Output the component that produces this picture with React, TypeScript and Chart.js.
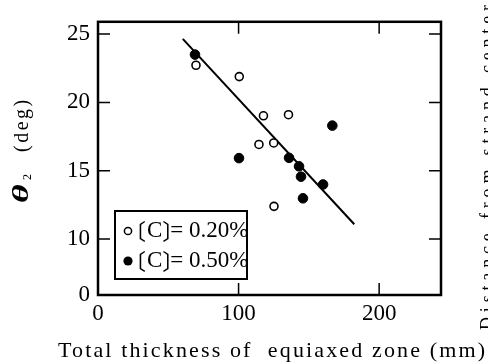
import React, { useEffect, useRef } from 'react';
import { Chart, registerables } from 'chart.js';

Chart.register(...registerables);

// ---- data ----
const openX = [69.7, 100.5, 117.7, 135.5, 114.5, 125.0, 125.2];
const openY = [22.72, 21.89, 19.02, 19.1, 16.92, 17.03, 12.39];
const filledX = [69.0, 100.3, 135.9, 143.0, 144.4, 145.8, 160.1, 166.7];
const filledY = [23.5, 15.92, 15.94, 15.32, 14.56, 12.98, 13.99, 18.3];
const fitX = [60.3, 182.3];
const fitY = [24.65, 11.08];
const seriesLabels = ['〔C〕= 0.20%', '〔C〕= 0.50%'];
const xTickValues = [0, 100, 200];
const xTickLabels = ['0', '100', '200'];
const yTickValues = [5.9, 10, 15, 20, 25];
const yTickLabels = ['0', '10', '15', '20', '25'];
const xTitle = 'Total thickness of  equiaxed zone (mm)';
const yTitleSymbol = 'θ';
const yTitleSub = '2';
const yTitleUnit = '(deg)';
const sideText = 'Distance from strand center';

const SERIF = '"Liberation Serif", "Times New Roman", serif';
const CJK = '"Noto Sans CJK JP", "Noto Sans CJK SC", sans-serif';

function drawLegendLabel(ctx: CanvasRenderingContext2D, text: string, x: number, y: number) {
  let cursor = x;
  let buf = '';
  const flush = () => {
    if (!buf) return;
    ctx.font = `23px ${SERIF}`;
    ctx.fillText(buf, cursor, y);
    cursor += ctx.measureText(buf).width;
    buf = '';
  };
  for (const ch of text) {
    if (ch === '〔' || ch === '〕') {
      flush();
      ctx.font = `22px ${CJK}`;
      const m = ctx.measureText(ch);
      ctx.fillText(ch, cursor + m.actualBoundingBoxLeft, y);
      cursor += m.actualBoundingBoxLeft + m.actualBoundingBoxRight + 1;
    } else {
      buf += ch;
    }
  }
  flush();
}

const decorPlugin = {
  id: 'decor',
  afterDraw(chart: any) {
    const { ctx, chartArea: a, scales } = chart;
    const xs = scales.x;
    const ys = scales.y;
    ctx.save();
    ctx.strokeStyle = '#000';
    ctx.fillStyle = '#000';

    // inward ticks on all four sides
    ctx.lineWidth = 1.5;
    ctx.beginPath();
    xTickValues.forEach((v) => {
      if (v <= xs.min) return;
      const px = xs.getPixelForValue(v);
      ctx.moveTo(px, a.bottom);
      ctx.lineTo(px, a.bottom - 12);
      ctx.moveTo(px, a.top);
      ctx.lineTo(px, a.top + 12);
    });
    yTickValues.forEach((v) => {
      if (v <= ys.min) return;
      const py = ys.getPixelForValue(v);
      ctx.moveTo(a.left, py);
      ctx.lineTo(a.left + 12, py);
      ctx.moveTo(a.right, py);
      ctx.lineTo(a.right - 12, py);
    });
    ctx.stroke();

    // frame
    ctx.lineWidth = 2.5;
    ctx.strokeRect(a.left, a.top, a.right - a.left, a.bottom - a.top);

    // legend box
    const bx = 115, by = 211, bw = 132, bh = 68;
    ctx.fillStyle = '#fff';
    ctx.fillRect(bx, by, bw, bh);
    ctx.lineWidth = 2;
    ctx.strokeRect(bx, by, bw, bh);
    ctx.fillStyle = '#000';
    // open marker
    ctx.lineWidth = 1.5;
    ctx.beginPath();
    ctx.arc(128, 231, 3.6, 0, Math.PI * 2);
    ctx.fillStyle = '#fff';
    ctx.fill();
    ctx.stroke();
    // filled marker
    ctx.beginPath();
    ctx.arc(128, 261, 4.6, 0, Math.PI * 2);
    ctx.fillStyle = '#000';
    ctx.fill();
    ctx.textBaseline = 'middle';
    ctx.textAlign = 'left';
    drawLegendLabel(ctx, seriesLabels[0], 139, 231);
    drawLegendLabel(ctx, seriesLabels[1], 139, 261);

    // x title
    ctx.textBaseline = 'alphabetic';
    ctx.font = `22px ${SERIF}`;
    (ctx as any).letterSpacing = '0px';
    const w0 = ctx.measureText(xTitle).width;
    const sp = (427 - w0) / (xTitle.length - 1);
    (ctx as any).letterSpacing = `${sp}px`;
    ctx.fillText(xTitle, 58, 357);
    (ctx as any).letterSpacing = '0px';

    // y title (rotated)
    ctx.save();
    ctx.translate(28, 203);
    ctx.rotate(-Math.PI / 2);
    ctx.font = `bold italic 24px ${SERIF}`;
    ctx.save();
    ctx.scale(1.5, 1);
    ctx.fillText(yTitleSymbol, 0, 0);
    ctx.restore();
    ctx.font = `12px ${SERIF}`;
    ctx.fillText(yTitleSub, 23, 3);
    ctx.font = `20px ${SERIF}`;
    (ctx as any).letterSpacing = '2.5px';
    ctx.fillText(yTitleUnit, 51, 0);
    (ctx as any).letterSpacing = '0px';
    ctx.restore();

    // cut-off text of neighbouring figure at right edge
    ctx.save();
    ctx.translate(493, 330);
    ctx.rotate(-Math.PI / 2);
    ctx.font = `18px ${SERIF}`;
    const sw = ctx.measureText(sideText).width;
    (ctx as any).letterSpacing = `${(325 - sw) / (sideText.length - 1)}px`;
    ctx.fillText(sideText, 0, 0);
    ctx.restore();

    ctx.restore();
  },
};

export default function App() {
  const ref = useRef<HTMLCanvasElement | null>(null);
  useEffect(() => {
    document.body.style.margin = '0';
    const canvas = ref.current!;
    const chart = new Chart(canvas, {
      type: 'scatter',
      data: {
        datasets: [
          {
            label: seriesLabels[0],
            data: openX.map((x, i) => ({ x, y: openY[i] })),
            pointStyle: 'circle',
            pointRadius: 4,
            pointBackgroundColor: '#fff',
            pointBorderColor: '#000',
            pointBorderWidth: 1.6,
            showLine: false,
            order: 0,
          },
          {
            label: seriesLabels[1],
            data: filledX.map((x, i) => ({ x, y: filledY[i] })),
            pointStyle: 'circle',
            pointRadius: 4.8,
            pointBackgroundColor: '#000',
            pointBorderColor: '#000',
            pointBorderWidth: 1,
            showLine: false,
            order: 1,
          },
          {
            label: 'fit',
            type: 'line',
            data: fitX.map((x, i) => ({ x, y: fitY[i] })),
            borderColor: '#000',
            borderWidth: 2,
            pointRadius: 0,
            showLine: true,
            fill: false,
            order: 2,
          } as any,
        ],
      },
      options: {
        animation: false,
        responsive: false,
        devicePixelRatio: 1,
        layout: { padding: { left: 0, right: 47, top: 16, bottom: 0 } },
        plugins: { legend: { display: false }, tooltip: { enabled: false } },
        scales: {
          x: {
            type: 'linear',
            min: 0,
            max: 244,
            afterBuildTicks: (s: any) => {
              s.ticks = xTickValues.map((v) => ({ value: v }));
            },
            afterFit: (s: any) => {
              s.height = 68;
            },
            ticks: {
              callback: (_v: any, i: number) => xTickLabels[i],
              font: { family: SERIF, size: 23 },
              color: '#000',
              padding: 5,
              maxRotation: 0,
              autoSkip: false,
            },
            grid: { display: false, drawTicks: false },
            border: { display: false },
          },
          y: {
            type: 'linear',
            min: 5.9,
            max: 25.9,
            afterBuildTicks: (s: any) => {
              s.ticks = yTickValues.map((v) => ({ value: v }));
            },
            afterFit: (s: any) => {
              s.width = 98;
            },
            ticks: {
              callback: (_v: any, i: number) => yTickLabels[i],
              font: { family: SERIF, size: 23 },
              color: '#000',
              padding: 8,
              autoSkip: false,
            },
            grid: { display: false, drawTicks: false },
            border: { display: false },
          },
        },
      } as any,
      plugins: [decorPlugin],
    });
    return () => chart.destroy();
  }, []);
  return (
    <div style={{ width: 488, height: 363, background: '#fff' }}>
      <canvas ref={ref} width={488} height={363} style={{ display: 'block' }} />
    </div>
  );
}
